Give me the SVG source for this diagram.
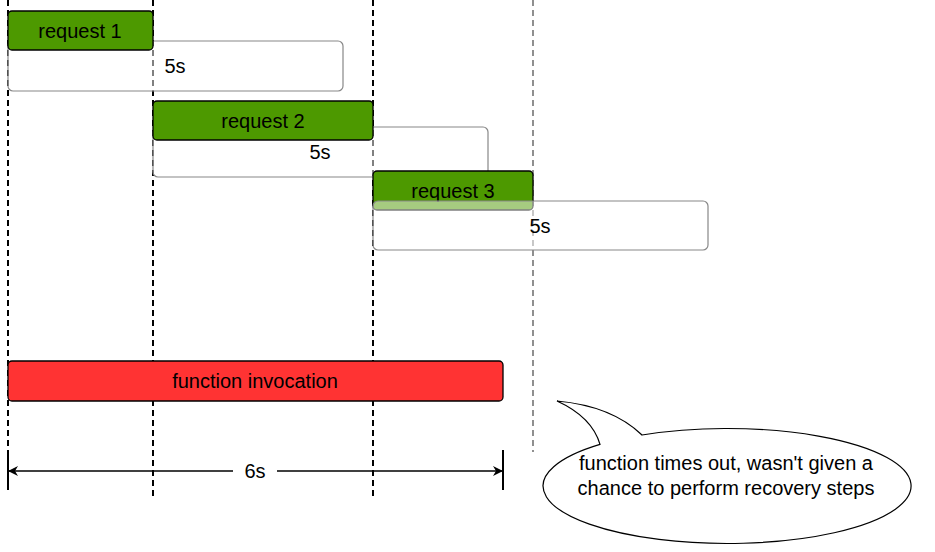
<svg xmlns="http://www.w3.org/2000/svg" width="935" height="552" viewBox="0 0 935 552">
<defs>
<style>
text{font-family:"Liberation Sans",Arial,sans-serif;font-size:20px;fill:#000;text-anchor:middle;dominant-baseline:central}
.req{fill:#4D9900;stroke:#000;stroke-width:1.3}
.dur{fill:#fff;fill-opacity:0.5;stroke:#888;stroke-width:1.2}
.dash{stroke:#000;stroke-width:2;stroke-dasharray:6 4;fill:none}
</style>
<marker id="arr" viewBox="0 0 10 10" refX="9" refY="5" markerWidth="10" markerHeight="10" markerUnits="userSpaceOnUse" orient="auto-start-reverse">
<path d="M0,0 L10,5 L0,10 L3,5 Z" fill="#000"/>
</marker>
</defs>
<rect width="935" height="552" fill="#fff"/>
<g id="connectors">
<line class="dash" x1="8" y1="0" x2="8" y2="450"/>
<line class="dash" x1="153" y1="0" x2="153" y2="496"/>
<line class="dash" x1="373" y1="0" x2="373" y2="496"/>
<line x1="533" y1="0" x2="533" y2="452" stroke="#555" stroke-width="1.3" stroke-dasharray="6 4"/>
<line x1="8" y1="450" x2="8" y2="490" stroke="#000" stroke-width="2"/>
<line x1="503" y1="450" x2="503" y2="490" stroke="#000" stroke-width="2"/>
<line x1="9" y1="471" x2="502" y2="471" stroke="#000" stroke-width="1.5" marker-start="url(#arr)" marker-end="url(#arr)"/>
</g>
<g id="req2-duration"><rect class="dur" x="153" y="127" width="335" height="50" rx="5"/><text x="320" y="152">5s</text></g>
<g id="req1-duration"><rect class="dur" x="8" y="41" width="335" height="50" rx="5"/><text x="175" y="66">5s</text></g>
<g id="request1"><rect class="req" x="8" y="11" width="145" height="39" rx="4"/><text x="80" y="31">request 1</text></g>
<g id="request2"><rect class="req" x="153" y="101" width="220" height="39" rx="4"/><text x="263" y="121">request 2</text></g>
<g id="request3"><rect class="req" x="373" y="171" width="160" height="39" rx="4"/><text x="453" y="191">request 3</text></g>
<g id="req3-duration"><rect class="dur" x="373" y="201" width="335" height="49" rx="5"/><text x="540" y="226">5s</text></g>
<g id="function-invocation"><rect x="8" y="361" width="495" height="40" rx="4" fill="#FF3333" stroke="#000" stroke-width="1.3"/><text x="255" y="381">function invocation</text></g>
<g id="dim-label"><rect x="233" y="460" width="44" height="22" fill="#fff"/><text x="255" y="471">6s</text></g>
<g id="callout">
<path d="M600,444.4 Q592,417 557,401 Q612,406 642,435 A184,57.5 0 1 1 600,444.4 Z" fill="#fff" stroke="#000" stroke-width="1.2"/>
<text x="726" y="463">function times out, wasn't given a</text>
<text x="726" y="488">chance to perform recovery steps</text>
</g>
</svg>
